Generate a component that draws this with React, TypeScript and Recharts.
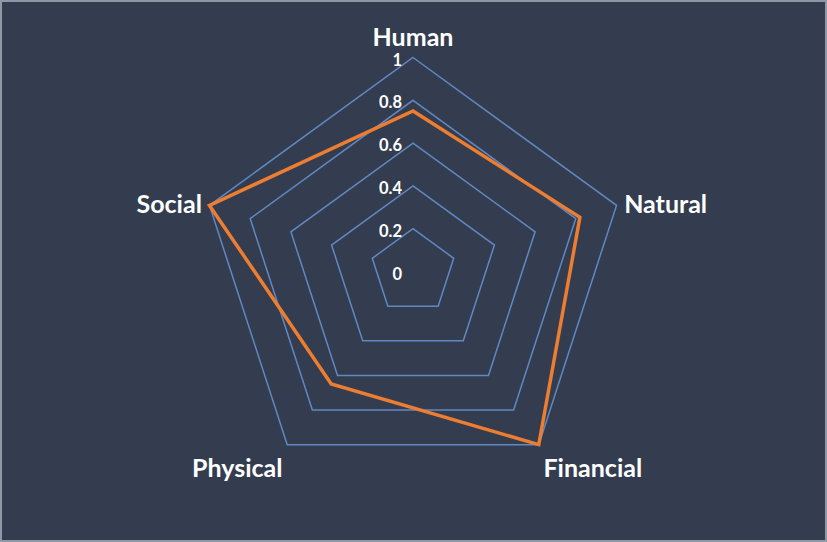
import { RadarChart, Radar, PolarGrid, PolarAngleAxis, PolarRadiusAxis } from 'recharts';

const capitals = ['Human', 'Natural', 'Financial', 'Physical', 'Social'];
const scores = [0.75, 0.82, 1.0, 0.65, 1.0];
const radiusTicks = [0, 0.2, 0.4, 0.6, 0.8, 1];

const W = 827;
const H = 542;
const CX = 413;
const CY = 271.5;

const rows = capitals.map((name, i) => ({ name, value: scores[i] }));

const labelFont = 'Lato, "Open Sans", sans-serif';

function AngleTick({ x, y, payload, textAnchor }: any) {
  // nudge labels like Excel does: top one up, bottom ones down
  let dy = 0;
  if (textAnchor === 'middle') dy = -14;
  else if (y > CY + 50) dy = 16;
  return (
    <text
      x={x}
      y={y + dy}
      textAnchor={textAnchor}
      dominantBaseline="central"
      fill="#ffffff"
      fontFamily={labelFont}
      fontWeight={700}
      fontSize={25}
    >
      {payload.value}
    </text>
  );
}

function RadiusTick({ x, y, payload }: any) {
  return (
    <text
      x={x - 11}
      y={y + 2}
      textAnchor="end"
      dominantBaseline="central"
      fill="#ffffff"
      fontFamily={labelFont}
      fontWeight={700}
      fontSize={16.5}
    >
      {payload.value}
    </text>
  );
}

export default function App() {
  return (
    <div
      style={{
        position: 'absolute',
        left: 0,
        top: 0,
        width: W,
        height: H,
        boxSizing: 'border-box',
        background: '#333d4f',
        border: '2px solid #9098a6',
      }}
    >
      <div style={{ position: 'absolute', left: -2, top: -2 }}>
        <RadarChart width={W} height={H} data={rows} cx={CX} cy={CY} outerRadius={214}>
          <PolarGrid gridType="polygon" radialLines={false} stroke="#6088c2" strokeWidth={1.5} />
          <PolarAngleAxis dataKey="name" tick={<AngleTick />} tickLine={false} axisLine={false} />
          <PolarRadiusAxis
            angle={90}
            domain={[0, 1]}
            ticks={radiusTicks}
            tickCount={6}
            axisLine={false}
            tickLine={false}
            tick={<RadiusTick />}
          />
          <Radar
            dataKey="value"
            stroke="#ed7d31"
            strokeWidth={3.5}
            fill="none"
            fillOpacity={0}
            dot={false}
            isAnimationActive={false}
          />
        </RadarChart>
      </div>
    </div>
  );
}
